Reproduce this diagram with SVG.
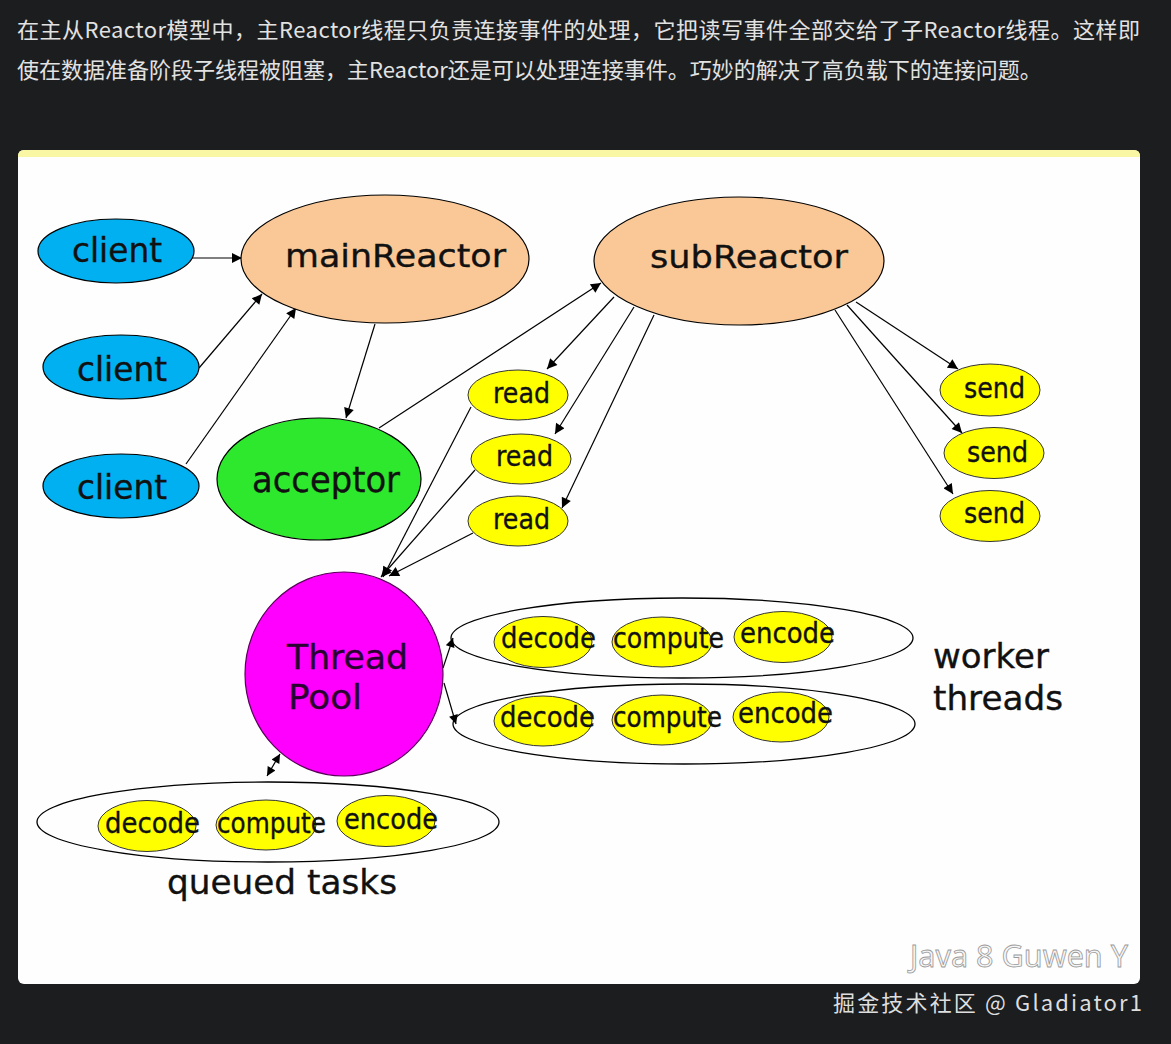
<svg xmlns="http://www.w3.org/2000/svg" width="1171" height="1044" viewBox="0 0 1171 1044">
<defs>
<style>
.cap{font-family:"Noto Sans CJK SC","Noto Sans",sans-serif;fill:#e2e2e2;font-size:22px}
.lbl{font-family:"DejaVu Sans","Liberation Sans",sans-serif;fill:#111;stroke:#111;stroke-width:0.35}
.ln{stroke:#000;stroke-width:1.2;fill:none}
.ol{stroke:#000;stroke-width:1.2}
.y{fill:#ffff00;stroke:#333;stroke-width:1}
.grp{fill:none;stroke:#000;stroke-width:1.3}
</style>
<marker id="ah" viewBox="0 0 10 10" refX="10" refY="5" markerWidth="14" markerHeight="10" markerUnits="userSpaceOnUse" orient="auto">
<path d="M0,0 L10,5 L0,10 z" fill="#000"/>
</marker>
<marker id="ahs" viewBox="0 0 10 10" refX="10" refY="5" markerWidth="11" markerHeight="9" markerUnits="userSpaceOnUse" orient="auto-start-reverse">
<path d="M0,0 L10,5 L0,10 z" fill="#000"/>
</marker>
</defs>
<rect x="0" y="0" width="1171" height="1044" fill="#1c1d1f"/>
<text class="cap" x="17" y="38" textLength="1123" lengthAdjust="spacing">在主从Reactor模型中，主Reactor线程只负责连接事件的处理，它把读写事件全部交给了子Reactor线程。这样即</text>
<text class="cap" x="17" y="78">使在数据准备阶段子线程被阻塞，主Reactor还是可以处理连接事件。巧妙的解决了高负载下的连接问题。</text>
<rect x="18" y="150" width="1122" height="834" rx="6" fill="#fefefe"/>
<path d="M18,157 L18,156 Q18,150 24,150 L1134,150 Q1140,150 1140,156 L1140,157 z" fill="#f9f6a4"/>

<g id="connectors">
<line class="ln" x1="184" y1="258" x2="242" y2="258" marker-end="url(#ah)"/>
<line class="ln" x1="199" y1="368" x2="262" y2="294" marker-end="url(#ah)"/>
<line class="ln" x1="186" y1="464" x2="296" y2="308" marker-end="url(#ah)"/>
<line class="ln" x1="375" y1="324" x2="346" y2="418" marker-end="url(#ah)"/>
<line class="ln" x1="379" y1="428" x2="601" y2="283" marker-end="url(#ah)"/>
<line class="ln" x1="614" y1="297" x2="547" y2="369" marker-end="url(#ah)"/>
<line class="ln" x1="634" y1="307" x2="555" y2="434" marker-end="url(#ah)"/>
<line class="ln" x1="654" y1="315" x2="562" y2="508" marker-end="url(#ah)"/>
<line class="ln" x1="856" y1="302" x2="958" y2="369" marker-end="url(#ah)"/>
<line class="ln" x1="847" y1="305" x2="962" y2="433" marker-end="url(#ah)"/>
<line class="ln" x1="835" y1="310" x2="953" y2="494" marker-end="url(#ah)"/>
<line class="ln" x1="471" y1="407" x2="383" y2="577" marker-end="url(#ah)"/>
<line class="ln" x1="475" y1="470" x2="381" y2="577" marker-end="url(#ah)"/>
<line class="ln" x1="473" y1="533" x2="389" y2="576" marker-end="url(#ah)"/>
<line class="ln" x1="443" y1="668" x2="453" y2="638" marker-end="url(#ahs)"/>
<line class="ln" x1="444" y1="683" x2="456" y2="724" marker-end="url(#ahs)"/>
<line class="ln" x1="267" y1="776" x2="280" y2="754" marker-start="url(#ahs)" marker-end="url(#ahs)"/>
</g>

<g id="client1"><ellipse class="ol" cx="116" cy="251" rx="78" ry="32" fill="#00b0f0"/><text class="lbl" x="72" y="262" font-size="33" textLength="90" lengthAdjust="spacingAndGlyphs">client</text></g>
<g id="client2"><ellipse class="ol" cx="121" cy="367" rx="78" ry="32" fill="#00b0f0"/><text class="lbl" x="77" y="381" font-size="33" textLength="90" lengthAdjust="spacingAndGlyphs">client</text></g>
<g id="client3"><ellipse class="ol" cx="121" cy="486" rx="78" ry="32" fill="#00b0f0"/><text class="lbl" x="77" y="499" font-size="33" textLength="90" lengthAdjust="spacingAndGlyphs">client</text></g>

<g id="mainReactor"><ellipse class="ol" cx="385" cy="259" rx="144" ry="64" fill="#fac896"/><text class="lbl" x="285" y="267" font-size="32" textLength="221" lengthAdjust="spacingAndGlyphs">mainReactor</text></g>
<g id="subReactor"><ellipse class="ol" cx="739" cy="261" rx="145" ry="64" fill="#fac896"/><text class="lbl" x="650" y="268" font-size="32" textLength="198" lengthAdjust="spacingAndGlyphs">subReactor</text></g>
<g id="acceptor"><ellipse class="ol" cx="319" cy="479" rx="102" ry="61" fill="#2ee82e"/><text class="lbl" x="252" y="492" font-size="35" textLength="148" lengthAdjust="spacingAndGlyphs">acceptor</text></g>

<g id="read1"><ellipse class="y" cx="518" cy="395" rx="50" ry="25"/><text class="lbl" x="493" y="403" font-size="28" textLength="57" lengthAdjust="spacingAndGlyphs">read</text></g>
<g id="read2"><ellipse class="y" cx="521" cy="459" rx="50" ry="25"/><text class="lbl" x="496" y="466" font-size="28" textLength="57" lengthAdjust="spacingAndGlyphs">read</text></g>
<g id="read3"><ellipse class="y" cx="518" cy="521" rx="50" ry="25"/><text class="lbl" x="493" y="529" font-size="28" textLength="57" lengthAdjust="spacingAndGlyphs">read</text></g>

<g id="send1"><ellipse class="y" cx="990" cy="390" rx="50" ry="26"/><text class="lbl" x="964" y="398" font-size="28" textLength="61" lengthAdjust="spacingAndGlyphs">send</text></g>
<g id="send2"><ellipse class="y" cx="994" cy="453" rx="50" ry="25.5"/><text class="lbl" x="967" y="462" font-size="28" textLength="61" lengthAdjust="spacingAndGlyphs">send</text></g>
<g id="send3"><ellipse class="y" cx="990" cy="516" rx="50" ry="25.5"/><text class="lbl" x="964" y="523" font-size="28" textLength="61" lengthAdjust="spacingAndGlyphs">send</text></g>

<g id="threadPool"><ellipse cx="344" cy="674" rx="99" ry="102" fill="#ff00ff" stroke="#5a005a" stroke-width="1.2"/><text class="lbl" x="287" y="669" font-size="34" textLength="121" lengthAdjust="spacingAndGlyphs" style="fill:#2a0030;stroke:#2a0030">Thread</text><text class="lbl" x="288" y="709" font-size="34" textLength="74" lengthAdjust="spacingAndGlyphs" style="fill:#2a0030;stroke:#2a0030">Pool</text></g>

<g id="worker1">
<ellipse class="grp" cx="682" cy="638" rx="231" ry="40"/>
<ellipse class="y" cx="543" cy="642" rx="49" ry="25.5"/>
<ellipse class="y" cx="662" cy="642" rx="50" ry="25"/>
<ellipse class="y" cx="783" cy="637" rx="49" ry="25.5"/>
<text class="lbl" x="501" y="648" font-size="28" textLength="95" lengthAdjust="spacingAndGlyphs">decode</text>
<text class="lbl" x="613" y="648" font-size="28" textLength="111" lengthAdjust="spacingAndGlyphs">compute</text>
<text class="lbl" x="740" y="643" font-size="28" textLength="95" lengthAdjust="spacingAndGlyphs">encode</text>
</g>
<g id="worker2">
<ellipse class="grp" cx="684" cy="724" rx="231" ry="40"/>
<ellipse class="y" cx="543" cy="721" rx="49" ry="25"/>
<ellipse class="y" cx="662" cy="720" rx="50" ry="25"/>
<ellipse class="y" cx="781" cy="717" rx="48" ry="25"/>
<text class="lbl" x="500" y="727" font-size="28" textLength="95" lengthAdjust="spacingAndGlyphs">decode</text>
<text class="lbl" x="613" y="727" font-size="28" textLength="109" lengthAdjust="spacingAndGlyphs">compute</text>
<text class="lbl" x="738" y="723" font-size="28" textLength="95" lengthAdjust="spacingAndGlyphs">encode</text>
</g>
<g id="workerLabel"><text class="lbl" x="933" y="668" font-size="34" textLength="116" lengthAdjust="spacingAndGlyphs">worker</text><text class="lbl" x="933" y="710" font-size="34" textLength="130" lengthAdjust="spacingAndGlyphs">threads</text></g>

<g id="queued">
<ellipse class="grp" cx="268" cy="822" rx="231" ry="40"/>
<ellipse class="y" cx="147" cy="826" rx="49" ry="25.5"/>
<ellipse class="y" cx="266" cy="825" rx="50" ry="25"/>
<ellipse class="y" cx="386" cy="821" rx="49" ry="25.5"/>
<text class="lbl" x="105" y="833" font-size="28" textLength="95" lengthAdjust="spacingAndGlyphs">decode</text>
<text class="lbl" x="217" y="833" font-size="28" textLength="109" lengthAdjust="spacingAndGlyphs">compute</text>
<text class="lbl" x="344" y="829" font-size="28" textLength="94" lengthAdjust="spacingAndGlyphs">encode</text>
</g>
<g id="queuedLabel"><text class="lbl" x="167" y="894" font-size="34" textLength="230" lengthAdjust="spacingAndGlyphs">queued tasks</text></g>

<text x="910" y="967" font-family="'Noto Sans','DejaVu Sans',sans-serif" font-size="30" fill="#f6f6f6" stroke="#9a9a9a" stroke-width="0.8" textLength="218" lengthAdjust="spacingAndGlyphs">Java 8 Guwen Y</text>
<text x="833" y="1011" font-family="'Noto Sans CJK SC','Noto Sans',sans-serif" font-size="22" fill="#dedede" textLength="309" lengthAdjust="spacing">掘金技术社区 @ Gladiator1</text>
</svg>
